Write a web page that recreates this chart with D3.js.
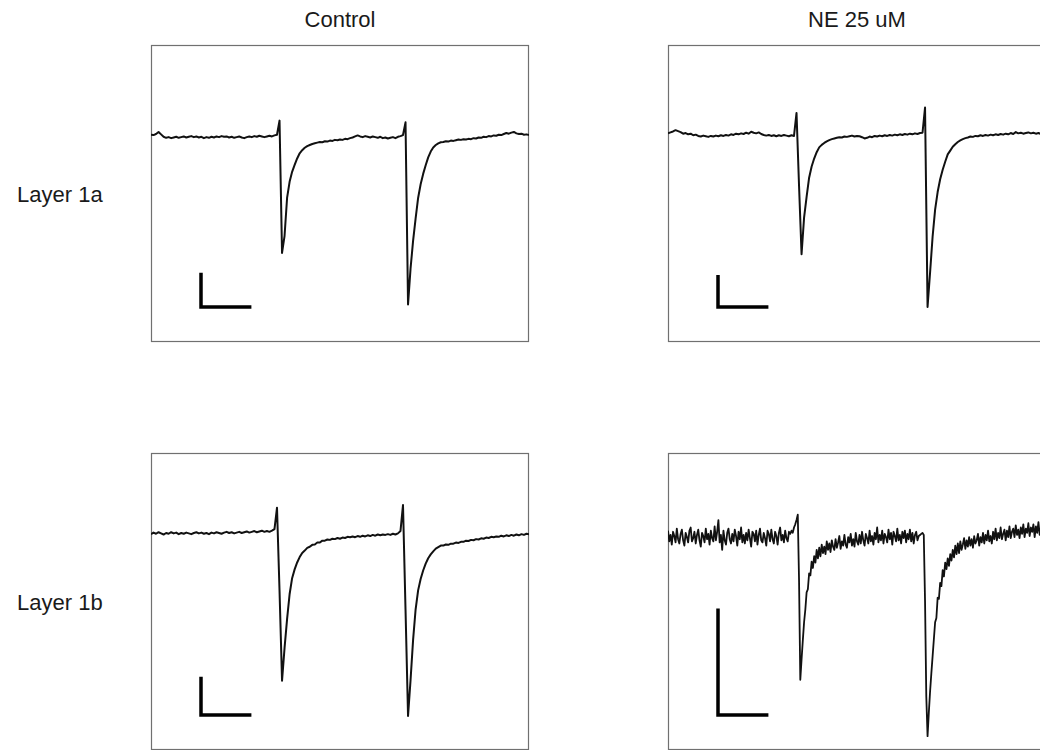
<!DOCTYPE html>
<html>
<head>
<meta charset="utf-8">
<script src="https://cdn.jsdelivr.net/npm/d3@7"></script>
<style>
  body { margin: 0; background: #fff; }
  svg { display: block; }
</style>
</head>
<body>
<script>
// Paired-pulse EPSC recordings (two stimuli 50 ms apart).
const conditions = ["Control", "NE 25 uM"];
const layers = ["Layer 1a", "Layer 1b"];
const sweepMs = [0, 150];
const sampleIntervalMs = [1, 1, 1, 0.5];
const scaleBarPA = 100;
const scaleBarMs = 20;

// Current range shown in each panel (pA), row by row
const currentRange = [[-599, 265], [-650, 281], [-567, 209], [-200, 79]];

// Layer 1a, control (pA), 1 ms samples
const layer1aControl = [
  4,3,6,12,5,-2,-5,-3,-6,-4, -2,-5,-3,-1,-4,-2,0,-3,-1,-4,
  -2,-6,-3,-5,-2,-4,-1,-3,0,-2, -1,-4,-2,-5,-3,-1,-4,-6,-3,-1,
  -3,0,-2,1,-1,-3,-1,1,-1,2, 4,45,-340,-290,-180,-133,-104,-84,-65,-50,
  -41,-34,-29,-26,-23,-21,-19,-17,-18,-15, -16,-13,-14,-11,-12,-10,-11,-8,-9,-6,
  -4,-1,2,-1,-3,0,-2,-4,-1,-3, -5,-2,-6,-4,-7,-5,-3,-6,-2,0,
  3,40,-490,-385,-305,-240,-180,-140,-110,-85, -62,-45,-33,-26,-21,-18,-17,-15,-16,-13,
  -14,-12,-10,-11,-9,-10,-8,-9,-6,-7, -4,-5,-2,-3,0,-1,2,1,4,3,
  6,9,7,10,12,8,6,7,4,5, 3
];

// Layer 1a, NE 25 uM (pA), 1 ms samples
const layer1aNE = [
  4,7,10,14,11,8,3,5,1,3, -2,0,-4,-6,-3,-5,-7,-4,-6,-3,
  -5,-2,-4,-1,-3,1,-1,3,1,4, 2,6,3,9,6,4,7,2,-1,-3,
  -1,-4,-2,-5,-2,-4,-1,-3,-5,-2, -4,68,-160,-375,-260,-195,-135,-100,-75,-55,
  -40,-32,-26,-21,-17,-14,-12,-10,-8,-9, -6,-7,-5,-3,-6,-4,-5,-8,-12,-10,
  -6,-8,-4,-6,-3,-5,-2,-4,-1,-3, 0,-2,1,-1,2,0,3,1,4,2,
  5,6,85,-540,-432,-320,-235,-180,-140,-110, -85,-62,-50,-38,-30,-23,-18,-14,-11,-9,
  -6,-7,-4,-5,-2,-4,-1,-3,0,-2, 1,-1,2,0,3,1,5,2,8,4,
  6,3,5,7,4,6,3,5,2,4, 3
];

// Layer 1b, control (pA), 1 ms samples
const layer1bControl = [
  -3,1,-2,2,-1,-4,0,-2,2,-1, 1,-3,0,-2,1,-1,-3,0,2,-1,
  1,-2,0,-3,1,-1,2,0,-2,1, 3,0,2,-1,1,3,0,2,4,1,
  3,5,2,4,6,3,5,3,6,10, 66,-150,-386,-300,-225,-160,-118,-95,-77,-63,
  -52,-46,-39,-36,-31,-30,-25,-25,-20,-20, -17,-18,-15,-16,-13,-15,-12,-13,-10,-11,
  -9,-11,-8,-10,-7,-9,-6,-8,-5,-7, -4,-6,-4,-5,-3,-5,-2,-4,-1,5,
  73,-200,-478,-384,-280,-200,-150,-120,-98,-80, -66,-56,-48,-41,-37,-33,-33,-30,-31,-28,
  -28,-25,-26,-23,-23,-20,-21,-18,-19,-16, -17,-14,-15,-12,-13,-10,-11,-9,-10,-7,
  -9,-6,-8,-5,-7,-4,-6,-3,-5,-2, -3
];

// Layer 1b, NE 25 uM (pA), 0.5 ms samples
const layer1bNE = [
  // 0 - 48 ms
  6,-4,2,-7,5,1,-5,8,-2,-6, 3,7,-3,-8,4,0,-5,6,9,-4,
  -1,5,-6,2,7,-3,-9,4,1,-5, 8,-2,3,-7,6,-1,-4,10,-3,5,
  16,-5,2,-12,6,-3,-7,4,8,-2, -6,3,-4,7,1,-8,5,-2,9,-5,
  2,-6,4,-3,7,-1,-9,5,3,-4, 6,-7,2,8,-3,-5,4,-1,-8,6,
  3,-4,7,-2,-6,5,1,-7,4,9, -3,2,-5,6,-1,-4,5,
  // 48.5 - 60 ms
  3,6,4,9,12,16,21,-40,-134,-115,-97,-80,-68,-52,-49,-34,-36,-23,-29,-18,-24,-12,-20,-10,
  // 60.5 - 99.5 ms
  -18,-7,-15,-9,-16,-4,-12,-6,-14,-3, -9,-12,-2,-10,-5,1,-11,-4,-8,2,
  -7,-10,0,-5,3,-8,-2,-9,4,-4, -7,2,-6,5,-3,-8,3,-1,-6,6,
  -4,1,-7,4,-2,9,-5,2,-3,6, -6,3,0,-5,7,-2,4,-7,5,1,
  -4,8,-3,2,-6,5,-1,6,-5,3, -2,7,-4,4,-6,2,5,-3,1,
  // 100 - 115 ms
  2,3,4,2,-60,-150,-187,-165,-145,-128,-112,-96,-80,-76,-57,-58,
  -43,-46,-31,-37,-24,-30,-20,-27,-16,-22,-12,-19,-8,-16,-6,
  // 115.5 - 150 ms
  -15,-4,-12,-7,-1,-11,-3,-9,0,-8, -2,-10,1,-6,-3,3,-8,0,-5,4,
  -6,2,-3,6,-4,1,-6,5,-2,8, -3,4,-1,9,-2,3,7,-3,6,0,
  10,-1,5,8,0,11,2,7,-1,9, 3,12,0,8,4,13,1,9,5,12,
  0,10,4,14,2,9,6,11,3,8
];

const traces = [layer1aControl, layer1aNE, layer1bControl, layer1bNE];

// ---- layout ----
const W = 1040, H = 750;
const colX = [151, 668];
const rowY = [45, 453];
const panelW = 378, panelH = 297;
const barCorner = [50, 262];

const svg = d3.select("body").append("svg")
  .attr("width", W).attr("height", H)
  .style("font-family", "'Liberation Sans', Arial, Helvetica, sans-serif");

svg.append("rect").attr("width", W).attr("height", H).attr("fill", "#fff");

const x = d3.scaleLinear().domain(sweepMs).range([0, panelW]);

layers.forEach((layer, r) => {
  conditions.forEach((cond, c) => {
    const idx = r * 2 + c;
    const data = traces[idx];
    const dt = sampleIntervalMs[idx];
    const y = d3.scaleLinear().domain(currentRange[idx]).range([panelH, 0]);

    const g = svg.append("g").attr("transform", `translate(${colX[c]},${rowY[r]})`);

    g.append("clipPath").attr("id", `clip${idx}`)
      .append("rect").attr("width", panelW).attr("height", panelH);

    g.append("rect")
      .attr("x", 0.5).attr("y", 0.5)
      .attr("width", panelW - 1).attr("height", panelH - 1)
      .attr("fill", "none").attr("stroke", "#707070").attr("stroke-width", 1.2);

    const line = d3.line()
      .x((d, j) => x(j * dt))
      .y(d => y(d));

    g.append("path")
      .datum(data)
      .attr("clip-path", `url(#clip${idx})`)
      .attr("d", line)
      .attr("fill", "none")
      .attr("stroke", "#111")
      .attr("stroke-width", idx === 3 ? 1.8 : 2)
      .attr("stroke-linejoin", "round");

    // scale bar: 100 pA / 20 ms
    const vLen = y(0) - y(scaleBarPA);
    const hLen = x(scaleBarMs) - x(0);
    const [bx, by] = barCorner;
    g.append("path")
      .attr("d", `M${bx},${by - vLen}V${by}H${bx + hLen}`)
      .attr("fill", "none")
      .attr("stroke", "#000")
      .attr("stroke-width", 3.5)
      .attr("stroke-linecap", "butt")
      .attr("stroke-linejoin", "miter");
  });
});

// column titles
conditions.forEach((cond, c) => {
  svg.append("text")
    .attr("x", colX[c] + panelW / 2)
    .attr("y", 27)
    .attr("text-anchor", "middle")
    .attr("font-size", 22)
    .attr("fill", "#1a1a1a")
    .text(cond);
});

// row labels
layers.forEach((layer, r) => {
  svg.append("text")
    .attr("x", 17)
    .attr("y", rowY[r] + 157)
    .attr("font-size", 22)
    .attr("fill", "#1a1a1a")
    .text(layer);
});
</script>
</body>
</html>
